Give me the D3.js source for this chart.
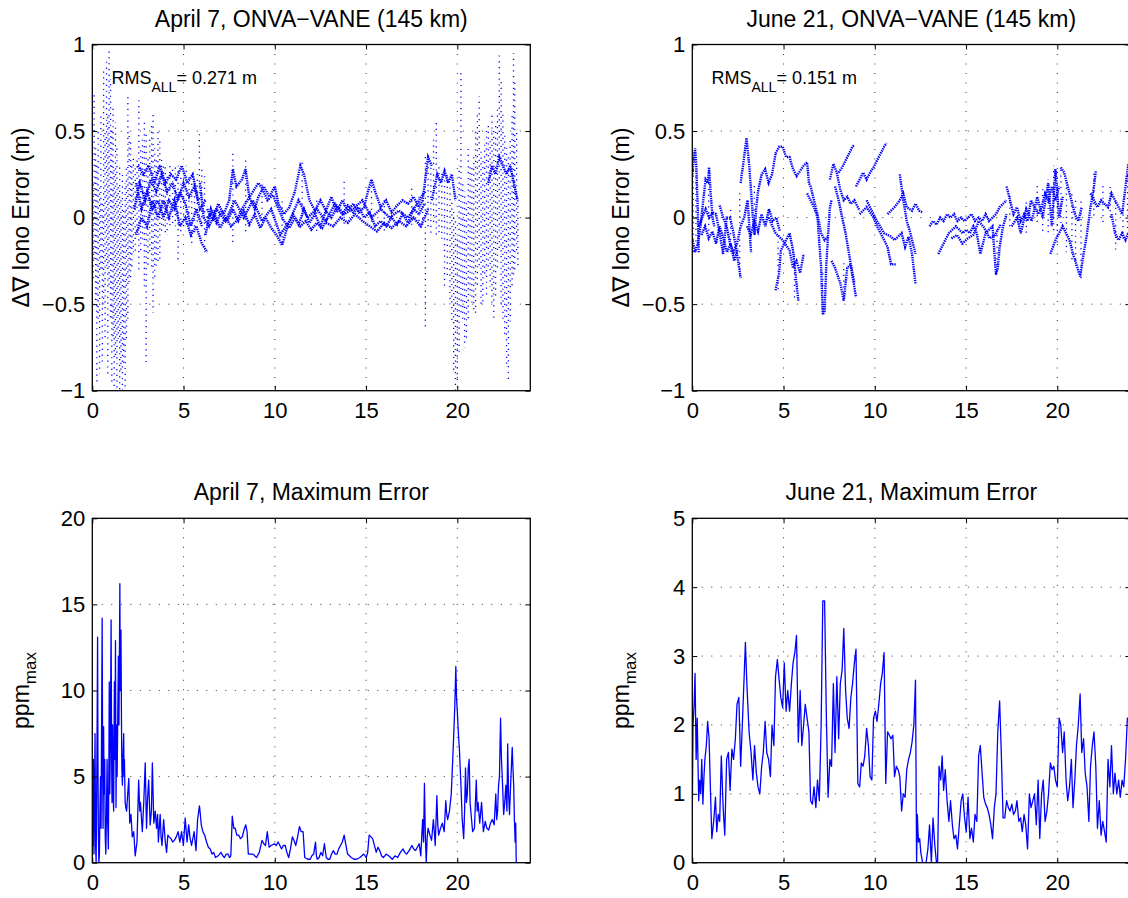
<!DOCTYPE html>
<html>
<head>
<meta charset="utf-8">
<script src="https://cdn.jsdelivr.net/npm/d3@7"></script>
<style>
body { margin: 0; background: #fff; }
svg { display: block; font-family: "Liberation Sans", Arial, Helvetica, sans-serif; }
</style>
</head>
<body>
<svg id="fig" width="1128" height="898"></svg>
<script>
// ---- data ----
const hourTicks   = [0, 5, 10, 15, 20]
const ddTicks     = [-1, -0.5, 0, 0.5, 1]
const aprPpmTicks = [0, 5, 10, 15, 20]
const junPpmTicks = [0, 1, 2, 3, 4, 5]

const titles = ['April 7, ONVA\u2212VANE (145 km)', 'June 21, ONVA\u2212VANE (145 km)',
                'April 7, Maximum Error', 'June 21, Maximum Error']
const rmsValues = ['0.271', '0.151']

// April 7 double-difference iono error: satellite tracks [hour, m]
const aprTracks = [
	[[2.3,0.05],[2.6,0.2],[2.9,0.1],[3.2,0.22],[3.5,0.15],[3.8,0.25],[4.1,0.15],[4.4,0.2],[4.7,0.1],[5.0,0.2],[5.3,0.12],[5.6,0.18],[5.9,0.05],[6.2,0.1]],
	[[2.4,0.2],[2.7,0.05],[3.0,0.15],[3.3,0.05],[3.6,0.1],[3.9,0.0],[4.2,0.1],[4.5,0.05],[4.8,0.15],[5.1,0.08],[5.4,-0.05],[5.7,0.05],[6.0,-0.05]],
	[[2.5,0.3],[2.8,0.25],[3.1,0.3],[3.4,0.2],[3.7,0.3],[4.0,0.2],[4.3,0.25],[4.6,0.22],[4.9,0.3],[5.2,0.2],[5.5,0.25],[5.8,0.1]],
	[[2.4,-0.1],[2.7,0.0],[3.0,-0.05],[3.3,0.1],[3.6,0.0],[3.9,0.1],[4.2,0.0],[4.5,0.1],[4.8,-0.05],[5.1,0.0],[5.4,-0.1],[5.7,-0.05],[6.0,-0.15],[6.3,-0.2]],
	[[6.2,-0.1],[6.5,0.05],[6.8,-0.03],[7.1,0.04],[7.4,-0.02],[7.7,0.05],[8.0,-0.02],[8.3,0.04],[8.6,-0.04],[8.9,0.02],[9.2,-0.06],[9.5,0.0],[9.8,-0.06],[10.1,-0.1],[10.4,-0.16],[10.7,-0.05],[11.0,0.02],[11.3,-0.04],[11.6,0.05],[11.9,-0.03],[12.2,0.02],[12.5,-0.05],[12.8,0.04],[13.1,0.0],[13.4,0.06],[13.7,0.02],[14.0,0.07],[14.3,0.03],[14.6,0.06],[14.9,0.0],[15.2,0.03],[15.5,-0.05],[15.8,-0.02],[16.1,-0.05],[16.4,0.0],[16.7,-0.04],[17.0,0.02],[17.3,-0.03],[17.6,0.05],[17.9,0.02],[18.2,0.08]],
	[[6.3,0.05],[6.6,-0.02],[6.9,0.08],[7.2,0.02],[7.5,0.1],[7.7,0.28],[7.9,0.18],[8.2,0.22],[8.4,0.28],[8.6,0.12],[8.9,0.05],[9.1,0.12],[9.4,0.18],[9.7,0.12],[10.0,0.18],[10.2,0.08],[10.5,0.02],[10.8,0.06],[11.1,0.15],[11.4,0.3],[11.6,0.25],[11.9,0.1],[12.2,0.04],[12.5,0.1],[12.8,0.04],[13.1,0.12],[13.4,0.03],[13.7,0.1],[14.0,0.04],[14.3,0.08],[14.6,0.03],[14.9,0.06],[15.1,0.15],[15.3,0.22],[15.5,0.15],[15.8,0.06],[16.1,0.1],[16.4,0.03],[16.7,0.07],[17.0,0.1],[17.3,0.08],[17.6,0.12],[17.9,0.06],[18.1,0.1],[18.4,0.35],[18.6,0.3]],
	[[5.9,0.2],[6.1,0.0],[6.4,-0.05],[6.7,0.02],[7.0,-0.06],[7.3,0.0],[7.6,-0.05],[7.9,-0.02],[8.2,0.05],[8.5,0.1],[8.8,0.15],[9.1,0.2],[9.3,0.17],[9.6,0.1],[9.9,0.13],[10.2,0.05],[10.5,-0.02],[10.8,-0.06],[11.1,0.0],[11.4,-0.05],[11.7,-0.02],[12.0,-0.07],[12.3,-0.03],[12.6,-0.06],[12.9,0.0]],
	[[6.3,0.0],[6.8,0.05],[7.3,-0.02],[7.8,0.1],[8.3,0.0],[8.8,0.1],[9.3,-0.02],[9.8,0.05],[10.3,-0.1],[10.8,-0.02],[11.3,0.1],[11.8,0.0],[12.3,0.05],[12.8,-0.02],[13.3,0.08],[13.8,0.02],[14.3,0.05],[14.8,0.1],[15.3,0.0],[15.8,0.05],[16.3,0.0],[16.8,0.04],[17.3,0.0],[17.8,0.08],[18.2,0.15]],
	[[12.8,-0.03],[13.2,-0.05],[13.6,0.0],[14.0,-0.03],[14.4,0.02],[14.8,-0.02],[15.2,-0.05],[15.6,-0.08],[16.0,-0.03],[16.4,-0.06],[16.8,-0.02],[17.2,-0.05],[17.6,0.0],[18.0,-0.05],[18.4,0.05]],
	[[18.6,0.1],[18.9,0.25],[19.1,0.2],[19.3,0.27],[19.5,0.2],[19.7,0.25],[19.9,0.1]],
	[[21.7,0.2],[21.9,0.3],[22.1,0.25],[22.3,0.35],[22.5,0.3],[22.7,0.25],[22.9,0.3],[23.1,0.2],[23.3,0.1]]
]
// April 7 fast swings: column of dots at an hour [hour, low m, high m]
const aprColumns = [
	[0.05,-0.35,0.2],[0.1,-0.25,0.73],[0.18,-0.5,0.4],[0.25,-0.95,0.3],[0.32,-0.6,0.5],[0.4,-0.9,0.2],[0.47,-0.3,0.6],[0.55,-0.85,0.1],[0.62,-0.5,0.85],[0.7,-0.7,0.5],[0.78,-0.3,0.92],[0.85,-0.9,0.6],[0.92,-0.4,0.97],[1.0,-0.6,0.8],[1.07,-0.95,0.5],[1.14,-0.7,0.65],[1.2,-1.0,0.3],[1.27,-0.8,0.55],[1.35,-1.0,0.4],[1.42,-0.7,0.2],[1.5,-1.0,0.3],[1.57,-0.9,0.1],[1.65,-1.0,0.25],[1.72,-0.85,0.05],[1.8,-1.0,0.2],[1.87,-0.7,0.3],[1.95,-0.6,0.7],[2.02,-0.4,0.5],[2.1,-0.35,0.45],[2.17,-0.3,0.3],[2.25,-0.2,0.35],
	[2.35,-0.2,0.3],[2.45,-0.1,0.35],[2.55,-0.3,0.7],[2.65,-0.2,0.4],[2.75,-0.15,0.45],[2.85,-0.4,0.55],[2.95,-0.85,0.5],[3.05,-0.3,0.35],[3.15,-0.2,0.45],[3.25,-0.3,0.55],[3.33,-0.55,0.6],[3.42,-0.35,0.4],[3.5,-0.3,0.35],[3.6,-0.25,0.5],[3.7,-0.25,0.45],[3.8,-0.1,0.35],[3.9,-0.05,0.3],[4.0,-0.1,0.3],[4.1,-0.1,0.25],[4.25,-0.05,0.3],[4.4,-0.05,0.3],[4.55,-0.05,0.3],[4.7,-0.25,0.3],[4.85,-0.1,0.25],[5.0,-0.05,0.25],[5.15,-0.05,0.3],[5.3,-0.1,0.25],[5.45,-0.15,0.2],[5.6,-0.1,0.2],[5.75,-0.05,0.25],[5.87,0.0,0.5],[6.0,-0.05,0.3],[6.15,-0.2,0.25],
	[7.7,-0.15,0.38],[8.4,-0.1,0.33],[9.3,-0.05,0.22],[10.4,-0.16,0.12],[11.5,-0.05,0.32],[12.3,-0.08,0.12],[13.8,-0.05,0.22],[15.3,-0.05,0.22],[16.0,-0.08,0.1],[17.5,-0.06,0.18],[17.9,-0.05,0.12],
	[18.1,-0.05,0.15],[18.25,-0.65,0.35],[18.4,-0.05,0.35],[18.55,-0.1,0.3],[18.7,-0.05,0.45],[18.85,-0.1,0.55],[19.0,-0.1,0.3],[19.15,-0.15,0.27],[19.3,-0.4,0.27],[19.45,-0.35,0.25],[19.6,-0.5,0.2],[19.7,-0.6,0.1],[19.8,-0.9,0.05],[19.9,-1.0,0.0],[20.0,-0.95,-0.1],[20.1,-0.8,0.3],[20.2,-0.55,0.85],[20.3,-0.6,0.2],[20.4,-0.75,0.15],[20.5,-0.7,0.1],[20.6,-0.6,0.4],[20.7,-0.45,0.3],[20.8,-0.5,0.3],[20.9,-0.55,0.35],[21.0,-0.55,0.5],[21.1,-0.4,0.6],[21.2,-0.3,0.7],[21.3,-0.5,0.4],[21.4,-0.5,0.35],[21.5,-0.35,0.45],[21.6,-0.45,0.5],[21.7,-0.3,0.55],[21.8,-0.4,0.45],[21.9,-0.5,0.6],[22.0,-0.6,0.5],[22.1,-0.45,0.55],[22.2,-0.3,0.65],[22.3,-0.2,0.95],[22.4,-0.5,0.8],[22.5,-0.6,0.6],[22.6,-0.7,0.5],[22.7,-0.85,0.4],[22.8,-0.95,0.35],[22.9,-0.6,0.45],[23.0,-0.4,0.6],[23.08,-0.35,0.95],[23.15,-0.3,0.8],[23.25,-0.2,0.5],[23.32,-0.3,0.1]
]

// June 21 double-difference iono error: satellite tracks [hour, m]
const junTracks = [
	[[0.0,0.25],[0.1,0.35],[0.15,0.4],[0.22,0.3],[0.3,0.05],[0.35,-0.2]],
	[[0.0,-0.12],[0.15,-0.2],[0.3,-0.15],[0.45,-0.05],[0.6,0.1],[0.73,0.22],[0.85,0.2],[0.92,0.29],[1.0,0.15],[1.11,0.0],[1.2,-0.05]],
	[[0.35,-0.05],[0.54,0.0],[0.73,0.05],[0.92,0.0],[1.11,0.03],[1.3,0.02],[1.5,-0.09],[1.69,-0.21],[1.88,0.0],[2.07,0.0],[2.26,-0.09],[2.45,-0.21],[2.65,-0.35]],
	[[0.5,-0.1],[0.7,-0.05],[0.9,-0.12],[1.1,-0.08],[1.3,-0.15],[1.5,-0.05],[1.7,-0.12],[1.9,-0.2],[2.1,-0.15],[2.3,-0.25],[2.5,-0.18]],
	[[1.5,0.07],[1.69,0.0],[1.88,-0.05],[2.07,-0.15],[2.26,-0.2],[2.45,-0.15],[2.65,-0.05],[2.84,0.0],[3.03,0.1],[3.22,-0.2]],
	[[2.65,0.2],[2.84,0.35],[2.97,0.46],[3.12,0.3],[3.22,0.15],[3.32,0.0],[3.41,-0.1],[3.5,0.05],[3.6,0.15],[3.8,0.25],[3.99,0.28],[4.18,0.2],[4.37,0.25],[4.56,0.37]],
	[[3.0,-0.05],[3.2,-0.1],[3.4,-0.02],[3.6,-0.08],[3.8,0.02],[4.0,-0.05],[4.2,0.05],[4.4,-0.02],[4.6,0.0],[4.8,-0.08]],
	[[4.56,0.37],[4.76,0.41],[4.95,0.41],[5.14,0.35],[5.33,0.35],[5.52,0.28],[5.71,0.24],[5.91,0.27],[6.1,0.3],[6.29,0.32],[6.39,0.2],[6.48,0.18],[6.67,0.1],[6.86,0.02],[7.06,-0.09],[7.25,-0.13],[7.44,-0.11]],
	[[6.29,0.14],[6.48,0.1],[6.67,0.06],[6.86,0.0],[7.06,-0.29],[7.15,-0.56],[7.25,-0.54],[7.34,-0.28],[7.44,-0.1],[7.54,0.06],[7.63,0.1]],
	[[4.56,-0.42],[4.76,-0.32],[4.85,-0.19],[5.33,-0.09],[5.52,-0.19],[5.71,-0.38],[5.81,-0.48]],
	[[4.18,0.0],[4.56,-0.09],[4.95,-0.13],[5.33,-0.19],[5.52,-0.29],[5.71,-0.25],[5.91,-0.32],[6.1,-0.21]],
	[[7.54,0.22],[7.73,0.31],[7.92,0.26],[8.11,0.16],[8.3,0.1],[8.49,0.12],[8.69,0.08],[8.88,0.1],[9.07,0.06],[9.17,0.04]],
	[[7.82,0.18],[8.02,0.1],[8.21,0.0],[8.4,-0.09],[8.59,-0.21],[8.78,-0.34],[8.97,-0.46]],
	[[7.63,-0.25],[7.82,-0.29],[8.11,-0.38],[8.3,-0.48],[8.49,-0.29],[8.69,-0.27],[8.88,-0.38]],
	[[8.02,0.26],[8.21,0.29],[8.4,0.33],[8.59,0.37],[8.78,0.41],[8.88,0.42]],
	[[8.97,0.18],[9.17,0.22],[9.36,0.26],[9.55,0.22],[9.74,0.26],[9.93,0.29],[10.12,0.33],[10.32,0.37],[10.51,0.41],[10.64,0.43]],
	[[9.17,0.02],[9.55,0.06],[9.93,0.0],[10.12,-0.05],[10.32,-0.09],[10.51,-0.13],[10.7,-0.17],[10.89,-0.27],[11.08,-0.27],[11.18,-0.27]],
	[[9.55,0.1],[10.12,-0.02],[10.51,-0.09],[10.89,-0.11],[11.08,-0.13],[11.47,-0.09],[11.66,-0.17],[11.85,-0.11],[12.04,-0.21],[12.23,-0.38]],
	[[10.7,0.02],[11.08,0.06],[11.37,0.1],[11.56,0.14],[11.75,0.06],[12.04,0.04],[12.23,0.08],[12.43,0.04],[12.62,0.03]],
	[[11.37,0.25],[11.56,0.1],[11.75,-0.02],[11.95,-0.09],[12.14,-0.17],[12.23,-0.21]],
	[[13.0,-0.05],[13.19,-0.02],[13.38,-0.04],[13.58,0.0],[13.77,-0.02],[13.96,0.02],[14.15,0.0],[14.34,0.02],[14.53,-0.02],[14.73,0.0],[14.92,-0.02],[15.11,0.0],[15.3,0.02],[15.49,-0.02],[15.69,0.0],[15.88,-0.02],[16.07,0.02],[16.26,-0.02],[16.45,0.0],[16.64,0.02],[16.84,0.06],[17.03,0.08],[17.22,0.1]],
	[[13.48,-0.21],[13.67,-0.17],[13.86,-0.13],[14.06,-0.09],[14.25,-0.07],[14.44,-0.05],[14.63,-0.07],[14.82,-0.09],[15.01,-0.07],[15.21,-0.09],[15.4,-0.05],[15.59,-0.09],[15.78,-0.21],[15.88,-0.17],[16.07,-0.09],[16.26,-0.07],[16.45,-0.05],[16.64,-0.33],[16.74,-0.29],[16.84,-0.17],[17.03,-0.05],[17.22,0.02]],
	[[14.2,-0.12],[14.5,-0.1],[14.8,-0.15],[15.1,-0.12],[15.4,-0.1],[15.7,-0.02],[16.0,-0.06],[16.3,-0.12],[16.6,-0.1],[16.9,-0.04]],
	[[17.22,0.18],[17.41,0.1],[17.6,0.02],[17.79,0.06],[17.99,-0.02],[18.18,0.02],[18.37,-0.02],[18.56,0.1],[18.75,0.06],[18.95,0.02],[19.14,0.06],[19.33,0.14],[19.52,0.1],[19.71,0.18],[19.9,0.1],[20.1,0.18]],
	[[17.5,-0.05],[17.8,0.0],[18.0,-0.09],[18.3,0.05],[18.6,-0.02],[18.9,0.12],[19.2,0.0],[19.5,0.2],[19.7,-0.05],[19.9,0.28],[20.1,0.0],[20.3,0.12]],
	[[19.62,-0.21],[19.9,-0.13],[20.1,-0.09],[20.29,-0.05],[20.48,-0.09],[20.67,-0.13],[20.86,-0.21],[21.05,-0.27],[21.25,-0.34],[21.44,-0.21],[21.63,-0.09],[21.82,0.06],[22.01,0.18],[22.11,0.27]],
	[[20.19,0.29],[20.38,0.26],[20.57,0.18],[20.77,0.1],[20.96,0.02],[21.15,-0.02],[21.34,0.06]],
	[[21.82,0.14],[22.01,0.1],[22.2,0.06],[22.4,0.1],[22.59,0.08],[22.78,0.06],[22.97,0.14],[23.16,0.1],[23.36,0.06],[23.55,0.02],[23.74,0.18],[23.89,0.31]],
	[[22.97,0.02],[23.16,-0.09],[23.36,-0.13],[23.55,-0.09],[23.74,-0.13],[23.89,-0.09]]
]
const junColumns = [
	[0.05,-0.2,0.38],[0.2,-0.15,0.3],[0.9,-0.1,0.29],[2.1,-0.2,0.05],[2.6,-0.35,0.15],[3.4,-0.12,0.2],[4.7,-0.42,-0.1],[5.6,-0.48,-0.2],[7.15,-0.56,-0.3],[8.3,-0.48,-0.25],
	[16.7,-0.33,-0.05],[17.4,-0.05,0.15],[18.3,-0.1,0.1],[18.9,-0.05,0.2],[19.2,-0.08,0.18],[19.5,-0.1,0.22],[19.8,-0.1,0.3],[20.0,-0.15,0.28],[20.2,-0.05,0.3],[20.5,-0.2,0.2],[20.8,-0.25,0.15],[21.0,-0.3,0.1],[21.3,-0.35,0.1],[22.0,0.0,0.27],[22.5,-0.05,0.2],[22.9,0.0,0.2],[23.2,-0.2,0.1],[23.6,-0.15,0.05],[23.85,-0.1,0.3]
]

// maximum error, ppm [hour, ppm]
const aprPpm = [[0,3],[0.03,1],[0.06,6],[0.09,0.5],[0.12,3.5],[0.15,7.5],[0.18,1],[0.21,0],[0.24,4],[0.27,9],[0.29,13.1],[0.31,6],[0.33,2],[0.36,0],[0.39,0.5],[0.42,3],[0.45,5],[0.48,2],[0.51,8],[0.54,14.2],[0.57,5],[0.59,2],[0.62,7.9],[0.65,4],[0.68,6],[0.71,1.5],[0.74,0.5],[0.78,3],[0.81,6],[0.84,2.5],[0.88,0.8],[0.91,6],[0.93,10.5],[0.96,4],[0.99,7],[1.03,14.1],[1.06,6],[1.08,3.5],[1.11,8],[1.14,4],[1.17,3],[1.19,7],[1.21,10.5],[1.24,6],[1.27,12.9],[1.3,3.2],[1.33,8],[1.36,5],[1.4,9],[1.43,12],[1.46,8],[1.48,11],[1.51,16.2],[1.53,10],[1.55,12.5],[1.57,13.5],[1.6,8],[1.62,5.5],[1.65,4.5],[1.68,6],[1.72,7.5],[1.74,5],[1.76,6],[1.8,3.5],[1.84,3.2],[1.88,3.0],[1.94,4],[2.0,4.9],[2.05,2.3],[2.12,2.8],[2.19,1.5],[2.27,1.8],[2.35,0.4],[2.45,1.2],[2.54,4.8],[2.6,3],[2.64,3.5],[2.74,1.8],[2.82,3.5],[2.9,5.8],[2.97,2],[3.03,3.8],[3.09,4.8],[3.17,2.2],[3.24,3],[3.29,5.8],[3.37,2.3],[3.45,3],[3.52,2],[3.58,2.8],[3.62,1.2],[3.72,2.8],[3.77,1.5],[3.82,1.0],[3.91,2.5],[4.0,1.2],[4.07,0.6],[4.14,1.6],[4.21,1.5],[4.31,1.4],[4.4,1.2],[4.5,1.3],[4.6,1.5],[4.7,1.8],[4.8,1.2],[4.89,1.8],[4.99,1.0],[5.09,2.6],[5.19,1.2],[5.28,2.2],[5.36,1.4],[5.44,1.0],[5.58,1.8],[5.68,0.7],[5.77,2.5],[5.87,3.3],[5.92,2.8],[5.97,2.2],[6.06,1.8],[6.16,1.6],[6.26,1.2],[6.36,0.9],[6.46,0.8],[6.56,0.5],[6.65,0.6],[6.75,0.3],[6.9,0.4],[7.05,0.6],[7.15,0.4],[7.24,0.3],[7.34,0.5],[7.44,0.5],[7.52,0.3],[7.59,0.4],[7.67,2.7],[7.75,2.0],[7.83,2.0],[7.92,1.6],[8.02,1.6],[8.12,1.4],[8.22,1.5],[8.31,1.9],[8.41,2.2],[8.48,1.8],[8.55,0.5],[8.68,0.5],[8.81,0.5],[8.9,0.4],[9.0,0.3],[9.15,0.6],[9.3,1.3],[9.4,1.1],[9.49,1.0],[9.59,1.8],[9.69,0.9],[9.8,1.0],[9.98,1.1],[10.08,1.0],[10.18,1.2],[10.28,1.0],[10.37,0.8],[10.47,1.0],[10.57,1.0],[10.66,0.6],[10.76,0.3],[10.86,0.8],[10.96,1.5],[11.05,1.3],[11.15,1.0],[11.25,1.5],[11.35,2.1],[11.45,1.8],[11.55,1.8],[11.64,0.3],[11.8,0.2],[11.94,0.2],[12.03,0.4],[12.13,0.5],[12.23,1.2],[12.28,0.4],[12.33,0.2],[12.43,0.3],[12.52,0.6],[12.62,0.4],[12.72,1.1],[12.82,0.3],[12.92,0.2],[13.01,0.2],[13.11,0.5],[13.21,0.7],[13.31,0.5],[13.41,0.5],[13.5,0.8],[13.6,1.0],[13.7,1.2],[13.8,1.6],[13.9,1.0],[13.99,0.5],[14.09,0.4],[14.19,0.3],[14.34,0.2],[14.48,0.2],[14.67,0.3],[14.87,0.5],[14.95,0.4],[15.01,0.3],[15.09,0.6],[15.17,1.6],[15.27,1.5],[15.36,1.4],[15.46,1.0],[15.56,0.6],[15.65,0.9],[15.75,0.7],[15.85,0.4],[15.95,0.3],[16.1,0.5],[16.24,0.4],[16.34,0.3],[16.44,0.2],[16.58,0.4],[16.73,0.3],[16.88,0.6],[17.03,0.8],[17.12,0.6],[17.22,0.5],[17.36,0.7],[17.51,1.0],[17.61,0.8],[17.71,0.7],[17.81,0.9],[17.91,1.1],[18.0,0.4],[18.05,1.5],[18.1,2.5],[18.15,1.2],[18.2,4.6],[18.25,1.5],[18.3,0],[18.35,1.5],[18.4,2.0],[18.5,1.6],[18.59,1.3],[18.69,2.5],[18.74,1.8],[18.79,1.0],[18.88,3.9],[18.93,2.2],[18.98,1.6],[19.08,2.0],[19.18,2.3],[19.28,1.8],[19.37,3.6],[19.42,2.8],[19.47,2.5],[19.57,3.0],[19.67,4.0],[19.77,6.5],[19.86,9],[19.92,11.4],[19.96,9.5],[20.0,8.8],[20.06,7.5],[20.12,6.5],[20.2,4.5],[20.27,2.5],[20.35,1.4],[20.4,3.0],[20.45,5.5],[20.5,3.5],[20.55,4.0],[20.6,5.5],[20.65,6.0],[20.7,3.5],[20.74,3.0],[20.84,1.8],[20.94,2.0],[21.04,4.8],[21.09,3.0],[21.14,3.5],[21.23,2.3],[21.33,3.5],[21.43,1.8],[21.53,2.4],[21.62,2.0],[21.72,1.9],[21.82,2.3],[21.92,2.5],[22.02,2.2],[22.11,4.0],[22.16,2.5],[22.21,3.0],[22.26,4.5],[22.31,5.0],[22.37,8.4],[22.42,6],[22.47,4.8],[22.54,2.8],[22.6,3.5],[22.66,4.5],[22.72,3.0],[22.76,6.9],[22.81,4],[22.86,2.8],[22.94,5],[23.01,6.7],[23.05,5.5],[23.09,4.5],[23.13,2.5],[23.17,1.2],[23.2,2.3],[23.23,0.0],[24,0]]

const junPpm = [[0,0.75],[0.04,2.0],[0.1,2.3],[0.15,2.75],[0.21,1.5],[0.27,2.1],[0.35,0.9],[0.4,1.2],[0.46,1.0],[0.52,1.5],[0.58,0.85],[0.63,1.2],[0.69,1.5],[0.77,1.7],[0.84,2.05],[0.92,1.8],[1.0,1.0],[1.07,0.35],[1.17,0.6],[1.27,0.95],[1.34,0.45],[1.42,0.7],[1.5,0.6],[1.59,1.55],[1.69,0.8],[1.78,0.4],[1.88,1.5],[1.98,1.6],[2.07,1.05],[2.17,1.65],[2.26,1.5],[2.36,1.8],[2.45,2.3],[2.55,2.4],[2.65,1.4],[2.74,2.0],[2.84,2.7],[2.91,3.2],[2.99,2.6],[3.11,1.9],[3.22,1.6],[3.32,1.2],[3.41,1.7],[3.51,1.3],[3.6,1.1],[3.7,1.0],[3.8,1.4],[3.89,1.6],[3.99,2.05],[4.08,1.6],[4.18,1.5],[4.28,1.25],[4.37,2.0],[4.47,1.7],[4.56,2.7],[4.66,2.95],[4.76,2.65],[4.85,2.4],[4.95,2.25],[5.04,2.9],[5.14,2.2],[5.23,2.5],[5.33,2.2],[5.43,2.6],[5.52,2.9],[5.62,3.05],[5.71,3.3],[5.81,1.75],[5.91,2.5],[6.0,1.7],[6.1,2.0],[6.19,2.3],[6.29,2.1],[6.39,1.9],[6.48,0.9],[6.58,0.85],[6.67,1.1],[6.77,0.8],[6.86,1.2],[6.96,0.9],[7.06,2.0],[7.15,3.8],[7.25,3.8],[7.34,2.2],[7.44,0.95],[7.54,1.5],[7.63,1.4],[7.73,2.6],[7.82,1.6],[7.92,2.7],[8.02,1.8],[8.11,2.6],[8.21,2.8],[8.3,3.4],[8.4,2.5],[8.49,2.1],[8.59,1.95],[8.69,2.4],[8.78,2.6],[8.88,2.9],[8.97,3.1],[9.07,1.15],[9.17,1.1],[9.26,1.45],[9.36,1.4],[9.45,1.55],[9.55,1.95],[9.65,1.7],[9.74,1.25],[9.84,1.2],[9.93,2.1],[10.03,2.2],[10.12,2.05],[10.22,2.3],[10.32,2.6],[10.41,2.75],[10.51,3.05],[10.6,1.15],[10.7,1.9],[10.8,1.85],[10.89,1.8],[10.99,1.85],[11.08,1.25],[11.18,1.4],[11.28,1.35],[11.37,1.25],[11.47,0.75],[11.56,1.0],[11.66,0.95],[11.75,1.35],[11.85,1.5],[11.95,1.6],[12.04,1.75],[12.14,2.0],[12.23,2.65],[12.29,0.0],[12.33,0.7],[12.39,0.3],[12.46,0.35],[12.52,0.15],[12.62,0.0],[12.81,0.0],[12.91,0.2],[13.0,0.55],[13.1,0.0],[13.19,0.65],[13.29,0.25],[13.38,0.0],[13.44,0.0],[13.52,1.4],[13.61,1.2],[13.69,1.55],[13.77,1.05],[13.86,1.35],[13.96,0.9],[14.06,0.6],[14.15,0.9],[14.25,0.55],[14.34,0.35],[14.44,0.4],[14.53,0.2],[14.63,0.55],[14.73,0.9],[14.82,1.0],[14.92,0.65],[15.01,0.45],[15.11,0.95],[15.21,0.35],[15.3,0.5],[15.4,0.3],[15.49,0.7],[15.59,0.6],[15.69,1.55],[15.78,1.7],[15.88,1.3],[15.97,0.95],[16.07,0.85],[16.16,0.8],[16.26,0.7],[16.36,0.55],[16.45,0.35],[16.55,0.8],[16.64,1.0],[16.74,1.9],[16.84,2.35],[16.93,1.6],[17.03,0.65],[17.12,0.65],[17.22,0.9],[17.32,0.8],[17.41,0.75],[17.51,0.85],[17.6,0.7],[17.7,0.75],[17.79,0.9],[17.89,0.6],[17.99,0.65],[18.08,0.45],[18.18,0.7],[18.27,0.55],[18.37,0.2],[18.47,1.0],[18.56,0.8],[18.66,0.9],[18.75,1.0],[18.85,0.55],[18.95,1.2],[19.04,0.35],[19.14,1.0],[19.23,1.2],[19.33,0.6],[19.43,0.75],[19.52,1.0],[19.62,1.45],[19.71,1.35],[19.81,1.4],[19.9,1.2],[20.0,1.1],[20.1,2.1],[20.19,2.0],[20.29,1.6],[20.38,1.9],[20.48,1.2],[20.57,0.9],[20.67,1.1],[20.77,1.5],[20.86,0.8],[20.96,1.2],[21.05,1.7],[21.15,2.0],[21.25,2.45],[21.34,1.6],[21.44,1.8],[21.53,1.3],[21.63,1.1],[21.73,0.6],[21.82,1.4],[21.92,1.7],[22.01,1.9],[22.11,1.4],[22.2,0.5],[22.3,0.9],[22.4,0.4],[22.49,0.6],[22.59,0.45],[22.68,0.3],[22.78,1.5],[22.88,1.1],[22.97,1.7],[23.07,1.0],[23.16,1.3],[23.26,1.0],[23.36,1.2],[23.45,0.95],[23.55,1.2],[23.64,1.1],[23.74,1.5],[23.84,2.1],[23.93,2.1]]

// ---- layout ----
const svg = d3.select('#fig')
const blue = '#0000ff'
const boxes = [
	{ x: 92.3,  y: 44.5,  w: 438, h: 346.2 },
	{ x: 692.3, y: 44.5,  w: 438, h: 346.2 },
	{ x: 92.3,  y: 518.3, w: 438, h: 344.4 },
	{ x: 692.3, y: 518.3, w: 438, h: 344.4 }
]

function panel(idx, cfg) {
	const b = boxes[idx]
	const x = d3.scaleLinear().domain([0, 24]).range([0, b.w])
	const y = d3.scaleLinear().domain(d3.extent(cfg.yTicks)).range([b.h, 0])
	const g = svg.append('g').attr('transform', `translate(${b.x},${b.y})`)

	g.append('clipPath').attr('id', `clip${idx}`)
		.append('rect').attr('width', b.w).attr('height', b.h)

	// dotted grid
	const grid = g.append('g')
		.attr('stroke', '#000')
		.attr('stroke-width', 1)
		.attr('stroke-dasharray', '1,8.5')
		.attr('opacity', 0.8)
	grid.selectAll('line.gx').data(hourTicks.filter(d => d > 0)).enter()
		.append('line').attr('class', 'gx')
		.attr('x1', d => x(d)).attr('x2', d => x(d))
		.attr('y1', 0).attr('y2', b.h)
	grid.selectAll('line.gy').data(cfg.yTicks.slice(1, -1)).enter()
		.append('line').attr('class', 'gy')
		.attr('x1', 0).attr('x2', b.w)
		.attr('y1', d => y(d)).attr('y2', d => y(d))

	const plot = g.append('g').attr('clip-path', `url(#clip${idx})`)
	const line = d3.line().x(d => x(d[0])).y(d => y(d[1]))

	if (cfg.columns) {
		// scramble the dash phase so neighbouring columns do not line up
		plot.selectAll('line.col').data(cfg.columns).enter()
			.append('line').attr('class', 'col')
			.attr('x1', d => x(d[0])).attr('x2', d => x(d[0]))
			.attr('y1', d => y(d[1])).attr('y2', d => y(d[2]))
			.attr('stroke', blue)
			.attr('stroke-width', 1.3)
			.attr('stroke-dasharray', '1.2,4.6')
			.attr('stroke-dashoffset', (d, i) => ((i * 7) % 11) * 0.53)
	}
	if (cfg.tracks) {
		plot.selectAll('path.track').data(cfg.tracks).enter()
			.append('path').attr('class', 'track')
			.attr('d', line)
			.attr('fill', 'none')
			.attr('stroke', blue)
			.attr('stroke-width', 2.4)
			.attr('stroke-dasharray', '1.4,0.9')
	}
	if (cfg.series) {
		plot.append('path').datum(cfg.series)
			.attr('d', line)
			.attr('fill', 'none')
			.attr('stroke', blue)
			.attr('stroke-width', 1.3)
			.attr('stroke-linejoin', 'round')
	}

	// axes, ticks pointing inward
	const fmt = d3.format('')
	const style = sel => {
		sel.select('.domain').remove()
		sel.attr('font-family', null).attr('font-size', 22)
		sel.selectAll('line').attr('stroke', '#000')
		sel.selectAll('text').attr('fill', '#000')
	}
	g.append('g').attr('transform', `translate(0,${b.h})`)
		.call(d3.axisBottom(x).tickValues(hourTicks).tickFormat(fmt).tickSizeInner(-5).tickSizeOuter(0).tickPadding(12))
		.call(style)
	g.append('g')
		.call(d3.axisTop(x).tickValues(hourTicks).tickFormat('').tickSizeInner(-5).tickSizeOuter(0))
		.call(style)
	g.append('g')
		.call(d3.axisLeft(y).tickValues(cfg.yTicks).tickFormat(fmt).tickSizeInner(-5).tickSizeOuter(0).tickPadding(7))
		.call(style)
	g.append('g').attr('transform', `translate(${b.w},0)`)
		.call(d3.axisRight(y).tickValues(cfg.yTicks).tickFormat('').tickSizeInner(-5).tickSizeOuter(0))
		.call(style)

	g.append('rect')
		.attr('width', b.w).attr('height', b.h)
		.attr('fill', 'none').attr('stroke', '#000').attr('stroke-width', 1.3)

	// title
	g.append('text')
		.attr('x', b.w / 2).attr('y', -18)
		.attr('text-anchor', 'middle')
		.attr('font-size', 23)
		.text(cfg.title)

	// y label
	const yl = g.append('text')
		.attr('transform', `translate(-63,${b.h / 2}) rotate(-90)`)
		.attr('text-anchor', 'middle')
		.attr('font-size', 23)
	if (cfg.ppm) {
		yl.append('tspan').text('ppm')
		yl.append('tspan').attr('dy', 7).attr('font-size', 17).text('max')
	} else {
		yl.text('\u0394\u2207 Iono Error (m)')
	}

	// RMS annotation
	if (cfg.rms) {
		const t = g.append('text')
			.attr('x', x(1.05)).attr('y', y(0.77))
			.attr('font-size', 18)
		t.append('tspan').text('RMS')
		t.append('tspan').attr('dy', 8).attr('font-size', 14).text('ALL')
		t.append('tspan').attr('dy', -8).text(`= ${cfg.rms} m`)
	}
}

panel(0, { title: titles[0], yTicks: ddTicks, tracks: aprTracks, columns: aprColumns, rms: rmsValues[0] })
panel(1, { title: titles[1], yTicks: ddTicks, tracks: junTracks, columns: junColumns, rms: rmsValues[1] })
panel(2, { title: titles[2], yTicks: aprPpmTicks, series: aprPpm, ppm: true })
panel(3, { title: titles[3], yTicks: junPpmTicks, series: junPpm, ppm: true })
</script>
</body>
</html>
